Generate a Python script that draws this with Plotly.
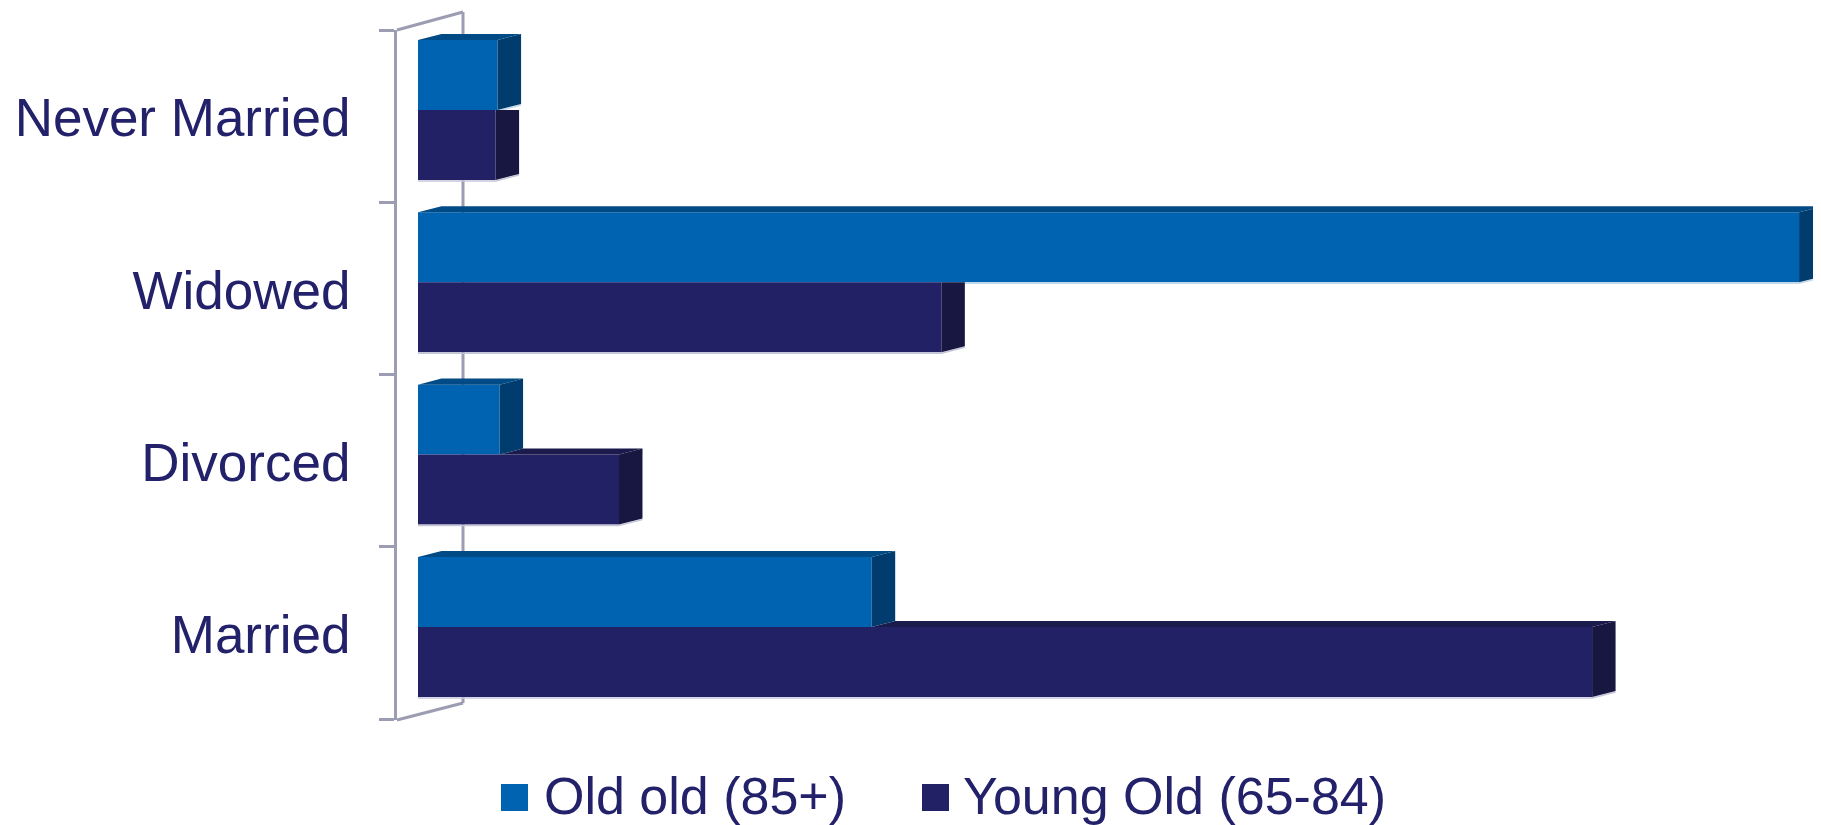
import plotly.graph_objects as go

# --- Data (percent of each age group) ---
categories = ["Never Married", "Widowed", "Divorced", "Married"]
old_old = [4.0, 69.4, 4.1, 22.8]      # Old old (85+)
young_old = [3.9, 26.3, 10.1, 59.0]   # Young Old (65-84)
series_names = ["Old old (85+)", "Young Old (65-84)"]

# --- Styling ---
OLD_FRONT, OLD_SIDE, OLD_TOP = "#0063B1", "#003D6E", "#004A86"
YNG_FRONT, YNG_SIDE, YNG_TOP = "#222166", "#171741", "#1B1A4C"
OLD_EDGE, YNG_EDGE = "#C2D9EC", "#C6C6D9"
AXIS = "#9C9CB2"
TEXT = "#22216A"
FONT = "Liberation Sans, Arial, sans-serif"

OFF = 8                      # page body margin of the html output
W, H = 1821 - OFF, 825 - OFF
ML, MR, MT, MB = 397 - OFF, 0, 30 - OFF, 105
BAR_W = 0.406          # height of one bar in category units
DX, DY = 1.18, 0.035   # 3D depth offset (x units, category units)
PX_PER_UNIT = 19.9

pos = list(range(len(categories)))

fig = go.Figure()
fig.add_trace(go.Bar(
    x=old_old, y=pos, orientation="h", name=series_names[0],
    width=BAR_W, offset=-BAR_W, marker=dict(color=OLD_FRONT, line=dict(width=0)),
    showlegend=False
))
fig.add_trace(go.Bar(
    x=young_old, y=pos, orientation="h", name=series_names[1],
    width=BAR_W, offset=0, marker=dict(color=YNG_FRONT, line=dict(width=0)),
    showlegend=False
))


def poly(pts, color):
    path = "M " + " L ".join(f"{x},{y}" for x, y in pts) + " Z"
    return dict(type="path", path=path, xref="x", yref="y",
                fillcolor=color, line=dict(width=0), layer="above")


def edge(pts, color):
    path = "M " + " L ".join(f"{x},{y}" for x, y in pts)
    return dict(type="path", path=path, xref="x", yref="y",
                line=dict(color=color, width=1.5), layer="above")


# --- 3D faces of the bars ---
shapes = []
for i, (vo, vy) in enumerate(zip(old_old, young_old)):
    yt, ym, yb = i - BAR_W, i, i + BAR_W
    e = 0.006
    # light edges under the front faces
    shapes.append(edge([(0, yb + e), (vy, yb + e), (vy + DX, yb - DY + e)], YNG_EDGE))
    if vo > vy:
        shapes.append(edge([(vy, ym + e), (vo, ym + e), (vo + DX, ym - DY + e)], OLD_EDGE))
    # young old bar (behind the old old bar)
    if vy > vo:
        shapes.append(poly([(vo, ym), (vo + DX, ym - DY), (vy + DX, ym - DY), (vy, ym)], YNG_TOP))
        shapes.append(poly([(vy, ym), (vy + DX, ym - DY), (vy + DX, yb - DY), (vy, yb)], YNG_SIDE))
    else:
        shapes.append(poly([(vy, ym), (vy + DX, ym), (vy + DX, yb - DY), (vy, yb)], YNG_SIDE))
    # old old bar
    shapes.append(poly([(0, yt), (DX, yt - DY), (vo + DX, yt - DY), (vo, yt)], OLD_TOP))
    shapes.append(poly([(vo, yt), (vo + DX, yt - DY), (vo + DX, ym - DY), (vo, ym)], OLD_SIDE))

# --- 3D wall (back line + diagonals) ---
pw, ph = W - ML - MR, H - MT - MB
bottom = H - MB


def px(x):
    return (x - OFF - ML) / pw


def py(y):
    return (bottom - (y - OFF)) / ph


bx = px(463)
for x0, y0, x1, y1 in [(0, 1, bx, py(12)), (0, 0, bx, py(703)), (bx, py(12), bx, py(703))]:
    shapes.append(dict(type="line", xref="paper", yref="paper", x0=x0, y0=y0, x1=x1, y1=y1,
                       line=dict(color=AXIS, width=3), layer="below"))

# --- Legend (drawn by hand for large swatches) ---
annotations = []
for name, color, sq_x, tx in [(series_names[0], OLD_FRONT, 501, 542),
                              (series_names[1], YNG_FRONT, 922, 961)]:
    shapes.append(dict(type="rect", xref="paper", yref="paper",
                       x0=px(sq_x), x1=px(sq_x + 27), y0=py(784), y1=py(811),
                       fillcolor=color, line=dict(width=0)))
    annotations.append(dict(text=name, xref="paper", yref="paper", x=px(tx), y=py(796),
                            xanchor="left", yanchor="middle", showarrow=False,
                            font=dict(family=FONT, size=52, color=TEXT)))

x_min = -21 / PX_PER_UNIT
fig.update_layout(
    width=W, height=H,
    margin=dict(l=ML, r=MR, t=MT, b=MB),
    paper_bgcolor="white", plot_bgcolor="white",
    barmode="overlay",
    shapes=shapes,
    annotations=annotations,
    xaxis=dict(range=[x_min, x_min + pw / PX_PER_UNIT], visible=False,
               showgrid=False, zeroline=False),
    yaxis=dict(
        range=[3.540, -0.464],
        tickvals=[p + 0.045 for p in pos], ticktext=categories,
        ticks="", showgrid=False, zeroline=False,
        showline=True, linecolor=AXIS, linewidth=3,
        minor=dict(ticks="outside", ticklen=15, tickwidth=3, tickcolor=AXIS,
                   tick0=-0.464, dtick=1, showgrid=False),
        tickfont=dict(family=FONT, size=53, color=TEXT),
        ticklabelstandoff=33,
    ),
    font=dict(family=FONT, color=TEXT),
)

fig.write_html("out.html")
